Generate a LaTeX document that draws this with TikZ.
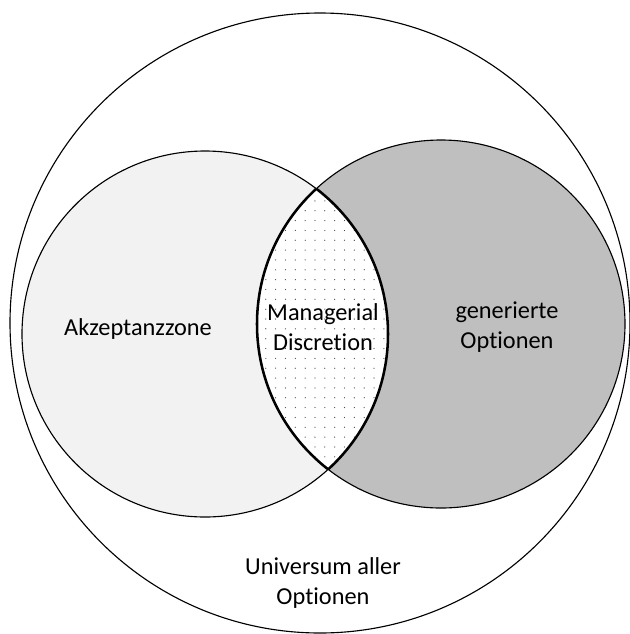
\documentclass[tikz,border=0pt]{standalone}
\usepackage{fontspec}
\setmainfont[Ligatures=NoCommon]{Carlito}
\usetikzlibrary{patterns.meta}
\begin{document}
\begin{tikzpicture}[x=0.025cm, y=-0.025cm,
  rim/.style={draw=black, line width=0.8pt},
  lens/.style={draw=black, line width=1.8pt},
  lbl/.style={font=\fontsize{17.3}{21}\selectfont, align=center, inner sep=0pt},
]
\useasboundingbox (0,0) rectangle (630,634);

% Centres
\coordinate (uni) at (320,323);
\coordinate (akz) at (205,334);
\coordinate (gen) at (441,324);

% Universe of options
\draw[rim, fill=white] (uni) circle [radius=310];

% Acceptance zone and generated options
\draw[rim, fill=black!5] (akz) circle [radius=183];
\draw[rim, fill=black!25] (gen) circle [radius=184];

% Overlap: managerial discretion
\begin{scope}
  \clip (akz) circle [radius=183];
  \fill[white] (gen) circle [radius=184];
  \fill[pattern={Dots[distance=7pt, radius=0.45pt]}, pattern color=black!70]
    (gen) circle [radius=184];
  \draw[lens] (gen) circle [radius=184];
\end{scope}
\begin{scope}
  \clip (gen) circle [radius=184];
  \draw[lens] (akz) circle [radius=183];
\end{scope}

% Labels
\node[lbl] (akztxt) at (138,329) {Akzeptanzzone};
\node[lbl] (mdtxt) at (323,327) {Managerial\\Discretion};
\node[lbl] (gentxt) at (507,327) {generierte\\Optionen};
\node[lbl] (unitxt) at (323,583) {Universum aller\\Optionen};

\end{tikzpicture}
\end{document}
